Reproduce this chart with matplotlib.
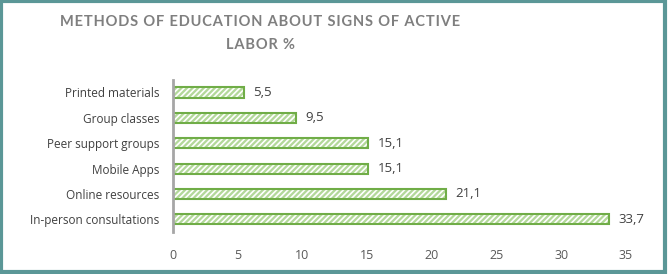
import matplotlib.pyplot as plt
from matplotlib.patches import Rectangle

methods = ['In-person consultations', 'Online resources', 'Mobile Apps',
           'Peer support groups', 'Group classes', 'Printed materials']
values = [33.7, 21.1, 15.1, 15.1, 9.5, 5.5]
ticks = [0, 5, 10, 15, 20, 25, 30, 35]

plt.rcParams['font.family'] = ['Open Sans', 'DejaVu Sans']
plt.rcParams['hatch.linewidth'] = 1.2

fig = plt.figure(figsize=(6.68, 2.74), dpi=100)
ax = fig.add_axes([0.259, 0.153, 0.678, 0.556])

pos = range(len(methods))
# hatched fill, then green outline on top
ax.barh(pos, values, height=0.4, color='#b3d89a', edgecolor='white',
        hatch='//////', linewidth=0)
ax.barh(pos, values, height=0.4, fill=False, edgecolor='#70ad47', linewidth=1.5)

for i, v in enumerate(values):
    ax.text(v + 0.7, i, f'{v:.1f}'.replace('.', ','), va='center', ha='left',
            fontsize=9.5, color='#404040')

ax.set_xlim(0, 35)
ax.set_ylim(-0.5, len(methods) - 0.5)
ax.set_xticks(ticks)
ax.set_yticks(list(pos))
ax.set_yticklabels(methods)
ax.tick_params(axis='both', length=0, labelsize=8.5, colors='#404040')
ax.tick_params(axis='x', pad=12, labelsize=9, colors='#595959')
ax.tick_params(axis='y', pad=10)
for s in ['top', 'right', 'bottom']:
    ax.spines[s].set_visible(False)
ax.spines['left'].set_color('#a6a6a6')
ax.spines['left'].set_linewidth(2)

# spaced-out title letters
def spaced(s):
    return '\u200a'.join(s)

title_font = dict(ha='center', va='center', fontsize=10.5, fontweight='bold',
                  color='#7f7f7f', family=['Lato', 'DejaVu Sans'])
fig.text(0.39, 0.918, spaced('METHODS OF EDUCATION ABOUT SIGNS OF ACTIVE'), **title_font)
fig.text(0.39, 0.835, spaced('LABOR %'), **title_font)

fig.patches.append(Rectangle((0.002, 0.008), 0.994, 0.988, transform=fig.transFigure,
                             fill=False, edgecolor='#5b9797', linewidth=3))

fig.savefig('out.png', dpi=100)
